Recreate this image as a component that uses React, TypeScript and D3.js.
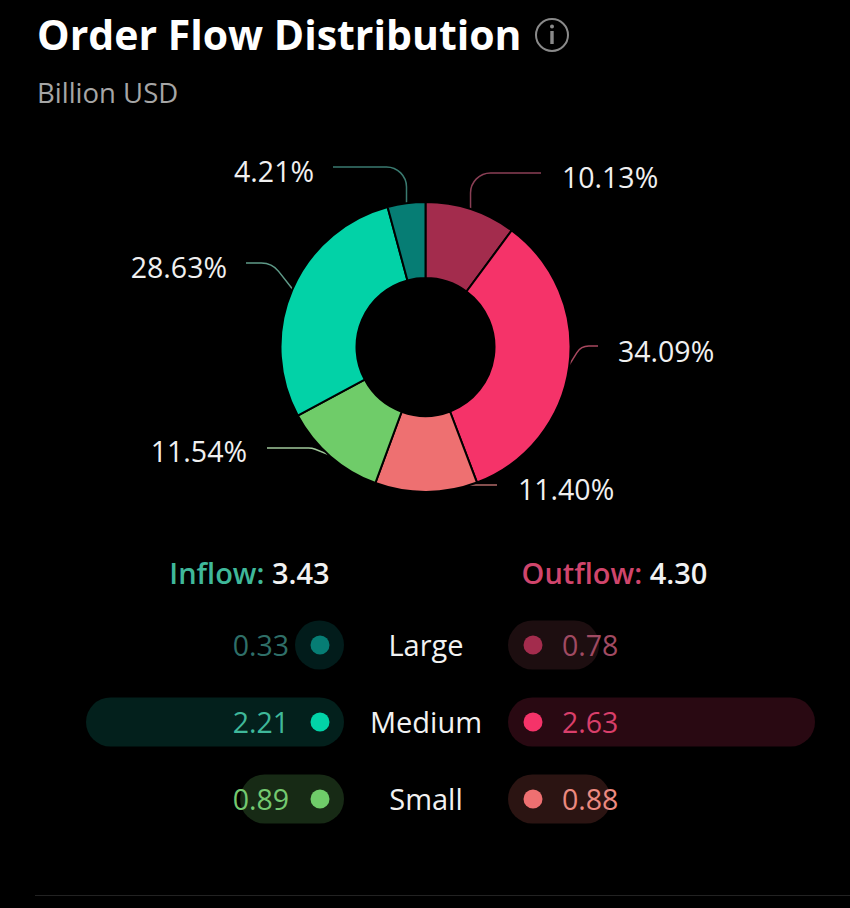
import * as d3 from "d3";

// pie order, clockwise from 12 o'clock
const shareLabels = ["10.13%", "34.09%", "11.40%", "11.54%", "28.63%", "4.21%"];
const shareValues = [10.13, 34.09, 11.4, 11.54, 28.63, 4.21];
const sliceColors = ["#A32C4D", "#F53369", "#EE7071", "#6FCC69", "#02D2A7", "#067D74"];
const leaderColors = ["#8A3F55", "#A8485F", "#B06A68", "#A0C89A", "#5F9A88", "#3A7A70"];

const sizes = ["Large", "Medium", "Small"];
const inflowValues = [0.33, 2.21, 0.89];
const outflowValues = [0.78, 2.63, 0.88];
const inflowTotal = "3.43";
const outflowTotal = "4.30";

const inflowDot = ["#067D74", "#02D2A7", "#6FCC69"];
const inflowText = ["#2F6F68", "#3FB89A", "#74C970"];
const inflowPill = ["#021C1B", "#03201C", "#172A15"];
const outflowDot = ["#A32C4D", "#F53369", "#EE7071"];
const outflowText = ["#A04A62", "#D93F6A", "#EC8A80"];
const outflowPill = ["#1D0E10", "#290912", "#2B1412"];

const font = "'Open Sans', sans-serif";
const cx = 425.5;
const cy = 347;
const outerR = 145;
const innerR = 69;
const rowY = d3.scalePoint<string>().domain(sizes).range([645, 799]);
const pillH = 49;
const pillW = d3.scaleLinear().domain([0, 2.63]).range([0, 307]);

// leader line layout, same order as the slices
const leaderEnds: [number, number][] = [
  [541, 173],
  [598, 346],
  [497, 485],
  [267, 448],
  [246, 263],
  [333, 167],
];
const leaderElbowX = [470.5, 581, 450, 312, 272, 406.5];
const leaderRadius = [20, 14, 10, 18, 22, 20];
const labelPos: [number, number, "start" | "end"][] = [
  [562, 188, "start"],
  [618, 362, "start"],
  [518, 500, "start"],
  [247, 462, "end"],
  [227, 278, "end"],
  [314, 182, "end"],
];

const App = () => {
  const pie = d3.pie<number>().sort(null).value((d) => d);
  const slices = pie(shareValues);
  const arc = d3.arc<d3.PieArcDatum<number>>().innerRadius(innerR).outerRadius(outerR);

  const leaderPath = (i: number) => {
    const s = slices[i];
    const mid = (s.startAngle + s.endAngle) / 2;
    const x0 = Math.sin(mid) * (outerR - 1);
    const y0 = -Math.cos(mid) * (outerR - 1);
    const [ex, ey] = leaderEnds[i];
    const p = d3.path();
    p.moveTo(cx + x0, cy + y0);
    p.arcTo(leaderElbowX[i], ey, ex, ey, leaderRadius[i]);
    p.lineTo(ex, ey);
    return p.toString();
  };

  return (
    <svg
      width={850}
      height={908}
      style={{ position: "absolute", top: 0, left: 0, background: "#000", display: "block" }}
      fontFamily={font}
    >
      <rect width={850} height={908} fill="#000" />

      <text x={37} y={50} fill="#fff" fontSize={41} fontWeight={700}>
        Order Flow Distribution
      </text>
      <circle cx={552} cy={35} r={16} fill="none" stroke="#8a8a8a" strokeWidth={2} />
      <circle cx={552} cy={26.5} r={2} fill="#8a8a8a" />
      <rect x={550.3} y={31} width={3.4} height={13} fill="#8a8a8a" />
      <text x={37} y={103} fill="#a6a6a6" fontSize={27.5}>
        Billion USD
      </text>

      {/* leaders sit under the ring so only the part outside it shows */}
      {slices.map((s, i) => (
        <path key={i} d={leaderPath(i)} fill="none" stroke={leaderColors[i]} strokeWidth={1.5} />
      ))}
      <g transform={`translate(${cx},${cy})`}>
        {slices.map((s, i) => (
          <path key={i} d={arc(s) ?? ""} fill={sliceColors[i]} stroke="#000" strokeWidth={2} />
        ))}
      </g>
      {shareLabels.map((t, i) => (
        <text key={t} x={labelPos[i][0]} y={labelPos[i][1]} textAnchor={labelPos[i][2]} fill="#f0f0f0" fontSize={28.5}>
          {t}
        </text>
      ))}

      <text x={249.5} y={584} textAnchor="middle" fontSize={29} fontWeight={600} fill="#3FB89A">
        Inflow: <tspan fill="#f2f2f2">{inflowTotal}</tspan>
      </text>
      <text x={614.5} y={584} textAnchor="middle" fontSize={29} fontWeight={600} fill="#D0456C">
        Outflow: <tspan fill="#f2f2f2">{outflowTotal}</tspan>
      </text>

      {sizes.map((name, i) => {
        const y = rowY(name) ?? 0;
        const wl = Math.max(pillH, pillW(inflowValues[i]));
        const wr = Math.max(pillH, pillW(outflowValues[i]));
        return (
          <g key={name}>
            <rect x={344 - wl} y={y - pillH / 2} width={wl} height={pillH} rx={pillH / 2} fill={inflowPill[i]} />
            <circle cx={320} cy={y} r={9.5} fill={inflowDot[i]} />
            <text x={289} y={y + 11} textAnchor="end" fontSize={28.5} fill={inflowText[i]}>
              {inflowValues[i].toFixed(2)}
            </text>

            <text x={426} y={y + 11} textAnchor="middle" fontSize={29} fill="#f2f2f2">
              {name}
            </text>

            <rect x={508} y={y - pillH / 2} width={wr} height={pillH} rx={pillH / 2} fill={outflowPill[i]} />
            <circle cx={533} cy={y} r={9.5} fill={outflowDot[i]} />
            <text x={562} y={y + 11} fontSize={28.5} fill={outflowText[i]}>
              {outflowValues[i].toFixed(2)}
            </text>
          </g>
        );
      })}

      <line x1={35} x2={850} y1={895.5} y2={895.5} stroke="#222" strokeWidth={1} />
    </svg>
  );
};

export default App;
